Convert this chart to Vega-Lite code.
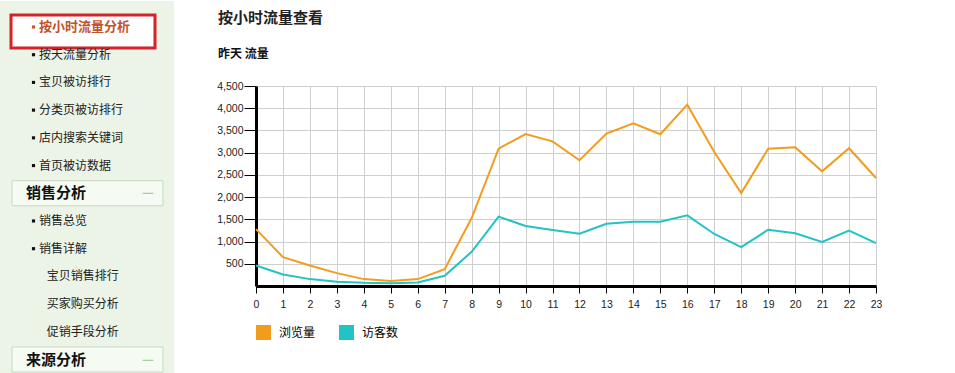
{
  "$schema": "https://vega.github.io/schema/vega-lite/v6.json",
  "padding": {"top": 0, "left": 0, "right": 0, "bottom": 0},
  "background": "white",
  "spacing": 42,
  "resolve": {"legend": {"color": "independent"}},
  "config": {
    "font": "Noto Sans CJK SC",
    "view": {"stroke": null}
  },
  "hconcat": [
    {
      "width": 174,
      "height": 200,
      "data": {
        "values": [
          {"row": 1, "label": "按小时流量分析", "kind": "active", "indent": 1},
          {"row": 2, "label": "按天流量分析", "kind": "item", "indent": 1},
          {"row": 3, "label": "宝贝被访排行", "kind": "item", "indent": 1},
          {"row": 4, "label": "分类页被访排行", "kind": "item", "indent": 1},
          {"row": 5, "label": "店内搜索关键词", "kind": "item", "indent": 1},
          {"row": 6, "label": "首页被访数据", "kind": "item", "indent": 1},
          {"row": 7, "label": "销售分析", "kind": "header", "indent": 0},
          {"row": 8, "label": "销售总览", "kind": "item", "indent": 1},
          {"row": 9, "label": "销售详解", "kind": "item", "indent": 1},
          {"row": 10, "label": "宝贝销售排行", "kind": "sub", "indent": 1.6},
          {"row": 11, "label": "买家购买分析", "kind": "sub", "indent": 1.6},
          {"row": 12, "label": "促销手段分析", "kind": "sub", "indent": 1.6},
          {"row": 13, "label": "来源分析", "kind": "header", "indent": 0}
        ]
      },
      "layer": [
        {
          "data": {"values": [{"part": "sidebar"}]},
          "mark": {"type": "rect", "color": "#ecf4e8"},
          "encoding": {
            "x": {"datum": -2, "type": "quantitative", "scale": {"domain": [-2, 11.385], "nice": false, "zero": false}, "axis": null},
            "x2": {"datum": 11.385},
            "y": {"datum": 0.061, "type": "quantitative", "scale": {"domain": [3.129, 10.347], "nice": false, "zero": false, "reverse": true}, "axis": null},
            "y2": {"datum": 13.52}
          }
        },
        {
          "transform": [{"filter": "datum.kind === 'header'"}],
          "mark": {"type": "point", "shape": "M-1,-0.166L1,-0.166L1,0.166L-1,0.166Z", "size": 22801, "filled": true, "fill": "#f5faf3", "stroke": "#c6d9c0", "strokeWidth": 1, "opacity": 1},
          "encoding": {
            "x": {"datum": 4.73, "type": "quantitative"},
            "y": {"field": "row", "type": "quantitative"}
          }
        },
        {
          "transform": [{"filter": "datum.kind === 'active'"}],
          "mark": {"type": "point", "shape": "M-1,-0.167L1,-0.167L1,0.292L-1,0.292Z", "size": 20736, "filled": true, "fill": "#ffffff", "stroke": "#d42228", "strokeWidth": 3, "opacity": 1},
          "encoding": {
            "x": {"datum": 4.385, "type": "quantitative"},
            "y": {"field": "row", "type": "quantitative"}
          }
        },
        {
          "transform": [{"filter": "datum.kind === 'item'"}],
          "mark": {"type": "point", "shape": "square", "size": 10, "filled": true, "xOffset": -5.5, "opacity": 1, "color": "#111111"},
          "encoding": {
            "x": {"field": "indent", "type": "quantitative"},
            "y": {"field": "row", "type": "quantitative"}
          }
        },
        {
          "transform": [{"filter": "datum.kind === 'active'"}],
          "mark": {"type": "point", "shape": "square", "size": 10, "filled": true, "xOffset": -5.5, "opacity": 1, "color": "#c8552f"},
          "encoding": {
            "x": {"field": "indent", "type": "quantitative"},
            "y": {"field": "row", "type": "quantitative"}
          }
        },
        {
          "transform": [{"filter": "datum.kind === 'header'"}],
          "mark": {"type": "text", "align": "left", "baseline": "middle", "fontSize": 15, "fontWeight": "bold", "color": "#111111"},
          "encoding": {
            "x": {"field": "indent", "type": "quantitative"},
            "y": {"field": "row", "type": "quantitative"},
            "text": {"field": "label"}
          }
        },
        {
          "transform": [{"filter": "datum.kind === 'header'"}],
          "mark": {"type": "text", "align": "center", "baseline": "middle", "fontSize": 13, "fontWeight": "bold", "color": "#a9cfa1", "text": "—"},
          "encoding": {
            "x": {"datum": 9.38, "type": "quantitative"},
            "y": {"field": "row", "type": "quantitative"}
          }
        },
        {
          "transform": [{"filter": "datum.kind === 'active'"}],
          "mark": {"type": "text", "align": "left", "baseline": "middle", "fontSize": 13, "fontWeight": "bold", "color": "#c0532a"},
          "encoding": {
            "x": {"field": "indent", "type": "quantitative"},
            "y": {"field": "row", "type": "quantitative"},
            "text": {"field": "label"}
          }
        },
        {
          "transform": [{"filter": "datum.kind === 'item' || datum.kind === 'sub'"}],
          "mark": {"type": "text", "align": "left", "baseline": "middle", "fontSize": 12, "color": "#222222"},
          "encoding": {
            "x": {"field": "indent", "type": "quantitative"},
            "y": {"field": "row", "type": "quantitative"},
            "text": {"field": "label"}
          }
        }
      ]
    },
    {
      "width": 620,
      "height": 200,
      "title": {
        "text": "按小时流量查看",
        "subtitle": "昨天 流量",
        "anchor": "start",
        "frame": "group",
        "dx": -38,
        "fontSize": 15,
        "fontWeight": "bold",
        "color": "#222222",
        "subtitleFontSize": 12,
        "subtitleFontWeight": "bold",
        "subtitleColor": "#111111",
        "subtitlePadding": 23,
        "offset": 21,
        "font": "Noto Sans CJK SC",
        "subtitleFont": "Noto Sans CJK SC"
      },
      "data": {
        "values": [
          {"hour": 0, "series": "浏览量", "value": 1280},
          {"hour": 1, "series": "浏览量", "value": 650},
          {"hour": 2, "series": "浏览量", "value": 462},
          {"hour": 3, "series": "浏览量", "value": 290},
          {"hour": 4, "series": "浏览量", "value": 155},
          {"hour": 5, "series": "浏览量", "value": 110},
          {"hour": 6, "series": "浏览量", "value": 155},
          {"hour": 7, "series": "浏览量", "value": 380},
          {"hour": 8, "series": "浏览量", "value": 1530},
          {"hour": 9, "series": "浏览量", "value": 3090},
          {"hour": 10, "series": "浏览量", "value": 3420},
          {"hour": 11, "series": "浏览量", "value": 3255},
          {"hour": 12, "series": "浏览量", "value": 2830},
          {"hour": 13, "series": "浏览量", "value": 3430},
          {"hour": 14, "series": "浏览量", "value": 3660},
          {"hour": 15, "series": "浏览量", "value": 3415},
          {"hour": 16, "series": "浏览量", "value": 4080},
          {"hour": 17, "series": "浏览量", "value": 3015},
          {"hour": 18, "series": "浏览量", "value": 2090},
          {"hour": 19, "series": "浏览量", "value": 3090},
          {"hour": 20, "series": "浏览量", "value": 3120},
          {"hour": 21, "series": "浏览量", "value": 2580},
          {"hour": 22, "series": "浏览量", "value": 3100},
          {"hour": 23, "series": "浏览量", "value": 2430},
          {"hour": 0, "series": "访客数", "value": 462},
          {"hour": 1, "series": "访客数", "value": 260},
          {"hour": 2, "series": "访客数", "value": 155},
          {"hour": 3, "series": "访客数", "value": 95},
          {"hour": 4, "series": "访客数", "value": 72},
          {"hour": 5, "series": "访客数", "value": 63},
          {"hour": 6, "series": "访客数", "value": 80},
          {"hour": 7, "series": "访客数", "value": 230},
          {"hour": 8, "series": "访客数", "value": 770},
          {"hour": 9, "series": "访客数", "value": 1560},
          {"hour": 10, "series": "访客数", "value": 1350},
          {"hour": 11, "series": "访客数", "value": 1260},
          {"hour": 12, "series": "访客数", "value": 1175},
          {"hour": 13, "series": "访客数", "value": 1400},
          {"hour": 14, "series": "访客数", "value": 1445},
          {"hour": 15, "series": "访客数", "value": 1445},
          {"hour": 16, "series": "访客数", "value": 1590},
          {"hour": 17, "series": "访客数", "value": 1170},
          {"hour": 18, "series": "访客数", "value": 875},
          {"hour": 19, "series": "访客数", "value": 1265},
          {"hour": 20, "series": "访客数", "value": 1185},
          {"hour": 21, "series": "访客数", "value": 990},
          {"hour": 22, "series": "访客数", "value": 1245},
          {"hour": 23, "series": "访客数", "value": 965}
        ]
      },
      "mark": {"type": "line", "strokeWidth": 2},
      "encoding": {
        "x": {
          "field": "hour",
          "type": "quantitative",
          "scale": {"domain": [0, 23], "nice": false, "zero": false},
          "axis": {
            "values": [0, 1, 2, 3, 4, 5, 6, 7, 8, 9, 10, 11, 12, 13, 14, 15, 16, 17, 18, 19, 20, 21, 22, 23],
            "title": null,
            "grid": true,
            "gridColor": "#cfcfcf",
            "gridOpacity": 1,
            "domainColor": "#000000",
            "domainWidth": 3,
            "tickColor": "#000000",
            "tickSize": 7,
            "labelPadding": 6,
            "labelFont": "Liberation Sans",
            "labelFontSize": 10.5,
            "labelColor": "#222222",
            "labelFlush": false
          }
        },
        "y": {
          "field": "value",
          "type": "quantitative",
          "scale": {"domain": [0, 4500], "nice": false},
          "axis": {
            "values": [500, 1000, 1500, 2000, 2500, 3000, 3500, 4000, 4500],
            "labelExpr": "datum.value < 1000 ? '' + datum.value : floor(datum.value / 1000) + ',' + (datum.value % 1000 == 0 ? '000' : '500')",
            "title": null,
            "grid": true,
            "gridColor": "#cfcfcf",
            "gridOpacity": 1,
            "domainColor": "#000000",
            "domainWidth": 3,
            "tickColor": "#000000",
            "tickSize": 12,
            "labelPadding": 1,
            "labelFont": "Liberation Sans",
            "labelFontSize": 10.5,
            "labelColor": "#222222",
            "minExtent": 40,
            "maxExtent": 40
          }
        },
        "color": {
          "field": "series",
          "type": "nominal",
          "scale": {"domain": ["浏览量", "访客数"], "range": ["#f29c1f", "#22c3c5"]},
          "legend": {
            "title": null,
            "orient": "bottom",
            "direction": "horizontal",
            "symbolType": "square",
            "symbolSize": 225,
            "symbolStrokeWidth": 0,
            "labelFont": "Noto Sans CJK SC",
            "labelFontSize": 12,
            "labelColor": "#000000",
            "labelOffset": 8,
            "columnPadding": 23,
            "padding": 0,
            "offset": 15,
            "encode": {"symbols": {"update": {"fill": {"scale": "color", "field": "value"}, "opacity": {"value": 1}}}}
          }
        }
      }
    }
  ]
}
